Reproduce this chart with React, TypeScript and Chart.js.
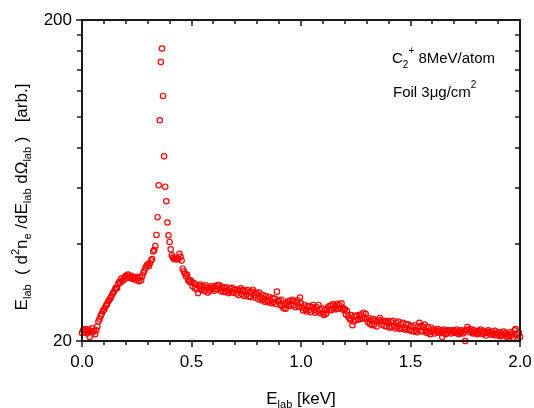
import React, { useEffect, useRef } from 'react';
import { Chart, registerables } from 'chart.js';

Chart.register(...registerables);

const FONT = '"Liberation Sans", Arial, Helvetica, sans-serif';

// Energy grid of the measured spectrum (keV)
const E_START = 0;
const E_STEP = 0.005;

// Measured yield, one value per energy bin, 0.000 ... 2.000 keV
const YIELD: number[] = [
  21.2, 21.6, 21.3, 21.8, 21.5, 21.1, 21.7, 20.6, 21.4, 21.9, 21.3, 21.5, 21.0, 21.6, 22.2, 23.0, 23.4, 23.9, 24.3, 24.8,
  25.0, 25.4, 25.8, 26.1, 26.6, 26.9, 27.2, 27.6, 28.1, 28.4, 28.9, 29.3, 29.2, 30.1, 30.6, 30.4, 31.3, 30.8, 31.0, 31.6,
  31.9, 31.4, 32.2, 31.7, 31.5, 31.9, 31.2, 31.6, 31.4, 31.0, 31.7, 31.3, 30.7, 31.5, 30.9, 31.8, 32.6, 33.1, 33.8, 34.3,
  34.7, 34.2, 34.9, 35.6, 36.0, 38.0, 38.4, 39.5, 42.8, 48.6, 61.1, 97.4, 148, 163, 116, 75.2, 60.5, 54.5, 46.8, 42.7,
  40.7, 38.6, 37.0, 36.4, 36.0, 36.3, 35.9, 36.2, 36.0, 37.4, 36.6, 35.6, 33.6, 33.0, 32.4, 31.8, 32.2, 31.0, 30.6, 30.9,
  30.6, 29.6, 30.3, 29.2, 30.0, 29.0, 28.2, 29.7, 30.0, 28.9, 29.6, 29.0, 28.6, 29.8, 29.4, 28.3, 29.2, 28.7, 29.6, 29.0,
  29.4, 28.7, 29.7, 29.0, 29.8, 29.9, 29.1, 28.6, 29.5, 28.5, 29.2, 28.4, 29.4, 28.7, 28.2, 29.1, 28.4, 29.3, 28.3, 28.9,
  29.0, 28.1, 28.8, 27.8, 28.7, 29.2, 28.0, 28.8, 27.6, 28.6, 27.8, 28.8, 27.5, 28.4, 27.4, 28.5, 28.9, 27.8, 27.3, 28.3,
  28.0, 27.0, 28.3, 27.3, 26.8, 27.8, 27.0, 26.5, 27.6, 26.8, 26.4, 27.4, 26.7, 26.2, 27.2, 26.4, 27.1, 26.1, 28.5, 26.6,
  26.8, 25.9, 26.9, 25.7, 25.3, 26.0, 25.2, 26.2, 26.6, 25.7, 26.7, 25.9, 26.9, 25.8, 26.6, 25.5, 26.4, 26.8, 25.6, 27.3,
  26.2, 25.4, 24.9, 25.9, 25.1, 24.7, 25.7, 24.9, 25.6, 24.6, 25.5, 25.9, 25.0, 24.5, 25.5, 24.8, 25.9, 25.0, 24.4, 25.3,
  24.4, 24.1, 25.0, 24.3, 25.2, 25.6, 24.9, 25.8, 25.0, 26.0, 25.2, 25.8, 25.1, 26.1, 25.2, 25.9, 25.3, 26.2, 25.4, 25.0,
  25.1, 24.2, 24.8, 23.9, 23.6, 23.3, 24.1, 22.4, 23.0, 23.9, 23.2, 24.0, 23.3, 24.1, 23.4, 24.2, 23.5, 24.5, 23.6, 24.3,
  23.4, 22.9, 23.6, 22.6, 23.2, 22.4, 23.4, 22.5, 23.1, 22.2, 23.0, 23.3, 23.6, 23.0, 22.5, 23.1, 22.3, 23.0, 22.2, 23.1,
  22.8, 22.0, 22.9, 22.2, 23.1, 22.3, 21.9, 22.8, 22.1, 23.0, 21.8, 22.6, 21.9, 22.8, 22.0, 21.7, 22.6, 21.8, 22.5, 21.6,
  22.3, 21.5, 22.2, 21.4, 22.4, 21.6, 21.3, 22.2, 22.8, 21.5, 22.3, 21.4, 22.1, 22.5, 21.5, 21.2, 22.1, 21.3, 21.0, 22.0,
  21.4, 21.7, 21.1, 21.6, 21.3, 21.8, 21.5, 21.2, 21.6, 20.6, 21.3, 21.7, 21.0, 21.5, 21.2, 21.6, 21.4, 21.1, 21.6, 21.3,
  21.5, 21.2, 21.7, 21.3, 21.0, 21.5, 21.2, 21.6, 21.1, 21.4, 20.0, 21.6, 22.1, 21.7, 21.3, 21.8, 21.4, 21.1, 21.6, 21.2,
  21.4, 21.0, 21.5, 21.2, 21.7, 21.3, 21.0, 21.5, 21.2, 20.8, 21.3, 21.6, 21.1, 21.4, 20.9, 21.3, 21.0, 21.5, 20.8, 21.2,
  20.9, 21.3, 20.7, 21.1, 20.8, 21.4, 20.9, 21.2, 20.6, 21.0, 20.7, 21.3, 20.8, 21.1, 20.5, 21.6, 21.8, 20.9, 20.3, 21.2, 20.6,
];

const X_MAJOR = [0, 0.5, 1.0, 1.5, 2.0];
const X_MINOR = [0.1, 0.2, 0.3, 0.4, 0.6, 0.7, 0.8, 0.9, 1.1, 1.2, 1.3, 1.4, 1.6, 1.7, 1.8, 1.9];
const Y_MAJOR = [20, 200];
const Y_MINOR = [40, 60, 80, 100, 120, 140, 160, 180];

type Seg = { t: string; size: number; dy?: number };

function segWidth(ctx: CanvasRenderingContext2D, segs: Seg[]) {
  let w = 0;
  for (const s of segs) {
    ctx.font = `${s.size}px ${FONT}`;
    w += ctx.measureText(s.t).width;
  }
  return w;
}

function drawSegs(ctx: CanvasRenderingContext2D, segs: Seg[], x: number, y: number) {
  let cx = x;
  for (const s of segs) {
    ctx.font = `${s.size}px ${FONT}`;
    ctx.fillText(s.t, cx, y + (s.dy || 0));
    cx += ctx.measureText(s.t).width;
  }
}

const Y_TITLE: Seg[] = [
  { t: 'E', size: 17 },
  { t: 'lab', size: 11, dy: 4 },
  { t: '  ( d', size: 17 },
  { t: '2', size: 11, dy: -8 },
  { t: 'n', size: 17 },
  { t: 'e', size: 11, dy: 4 },
  { t: ' /dE', size: 17 },
  { t: 'lab', size: 11, dy: 4 },
  { t: ' d\u03A9', size: 17 },
  { t: 'lab', size: 11, dy: 4 },
  { t: ' )', size: 17 },
  { t: '   [arb.]', size: 17 },
];

const X_TITLE: Seg[] = [
  { t: 'E', size: 17 },
  { t: 'lab', size: 11, dy: 4 },
  { t: ' [keV]', size: 17 },
];

const NOTE_1: Seg[] = [
  { t: 'C', size: 15 },
  { t: '2', size: 10, dy: 5 },
  { t: '+', size: 10, dy: -9 },
  { t: ' 8MeV/atom', size: 15 },
];

const NOTE_2: Seg[] = [
  { t: 'Foil 3\u03BCg/cm', size: 15 },
  { t: '2', size: 10, dy: -9 },
];

const framePlugin = {
  id: 'framePlugin',
  afterDraw(chart: any) {
    const ctx: CanvasRenderingContext2D = chart.ctx;
    const { left, right, top, bottom } = chart.chartArea;
    const xs = chart.scales.x;
    const ys = chart.scales.y;
    ctx.save();
    ctx.strokeStyle = '#1a1a1a';
    ctx.lineWidth = 1.5;
    ctx.beginPath();
    const xTick = (v: number, len: number) => {
      const p = Math.round(xs.getPixelForValue(v));
      ctx.moveTo(p, bottom);
      ctx.lineTo(p, bottom + len);
      ctx.moveTo(p, top);
      ctx.lineTo(p, top + len);
    };
    const yTick = (v: number, len: number) => {
      const p = Math.round(ys.getPixelForValue(v));
      ctx.moveTo(left - len, p);
      ctx.lineTo(left, p);
      ctx.moveTo(right - len, p);
      ctx.lineTo(right, p);
    };
    X_MAJOR.forEach((v) => xTick(v, 6));
    X_MINOR.forEach((v) => xTick(v, 4));
    Y_MAJOR.forEach((v) => yTick(v, 6));
    Y_MINOR.forEach((v) => yTick(v, 5));
    ctx.stroke();
    ctx.lineWidth = 2;
    ctx.strokeRect(left, top, right - left, bottom - top);

    ctx.fillStyle = '#000';
    ctx.textBaseline = 'alphabetic';
    ctx.textAlign = 'left';

    // y title (rotated)
    ctx.save();
    ctx.translate(27, 197);
    ctx.rotate(-Math.PI / 2);
    const wy = segWidth(ctx, Y_TITLE);
    drawSegs(ctx, Y_TITLE, -wy / 2, 0);
    ctx.restore();

    // x title
    const wx = segWidth(ctx, X_TITLE);
    drawSegs(ctx, X_TITLE, (left + right) / 2 - wx / 2, 404);

    // annotation
    drawSegs(ctx, NOTE_1, 392, 63);
    drawSegs(ctx, NOTE_2, 393, 97);
    ctx.restore();
  },
};

export default function App() {
  const ref = useRef<HTMLCanvasElement>(null);
  useEffect(() => {
    document.body.style.margin = '0';
    const points = YIELD.map((y, i) => ({ x: +(E_START + i * E_STEP).toFixed(3), y }));
    const chart = new Chart(ref.current as HTMLCanvasElement, {
      type: 'scatter',
      data: {
        datasets: [
          {
            data: points,
            showLine: false,
            pointStyle: 'circle',
            pointRadius: 2.7,
            pointBorderWidth: 1.2,
            borderColor: '#ff0000',
            backgroundColor: 'rgba(0,0,0,0)',
            pointBackgroundColor: 'rgba(0,0,0,0)',
            pointBorderColor: '#ff0000',
            clip: false as any,
          },
        ],
      },
      options: {
        animation: false,
        responsive: false,
        devicePixelRatio: 1,
        layout: { padding: { top: 20, right: 14, left: 0, bottom: 0 } },
        plugins: { legend: { display: false }, tooltip: { enabled: false } },
        scales: {
          x: {
            type: 'linear',
            min: 0,
            max: 2,
            grid: { display: false, drawTicks: false },
            border: { display: false },
            afterBuildTicks: (s: any) => {
              s.ticks = X_MAJOR.map((v) => ({ value: v }));
            },
            afterFit: (s: any) => {
              s.height = 67;
              s.paddingLeft = 0;
              s.paddingRight = 0;
            },
            ticks: {
              padding: 11,
              color: '#000',
              font: { family: FONT, size: 17 },
              maxRotation: 0,
              callback: (v: any) => Number(v).toFixed(1),
            },
          },
          y: {
            type: 'logarithmic',
            min: 20,
            max: 200,
            grid: { display: false, drawTicks: false },
            border: { display: false },
            afterBuildTicks: (s: any) => {
              s.ticks = Y_MAJOR.map((v) => ({ value: v }));
            },
            afterFit: (s: any) => {
              s.width = 82;
              s.paddingTop = 0;
              s.paddingBottom = 0;
            },
            ticks: {
              padding: 10,
              color: '#000',
              font: { family: FONT, size: 17 },
              callback: (v: any) => String(v),
            },
          },
        },
      },
      plugins: [framePlugin],
    });
    return () => chart.destroy();
  }, []);
  return (
    <div style={{ width: 534, height: 408, position: 'relative', background: '#fff' }}>
      <canvas ref={ref} width={534} height={408} />
    </div>
  );
}
